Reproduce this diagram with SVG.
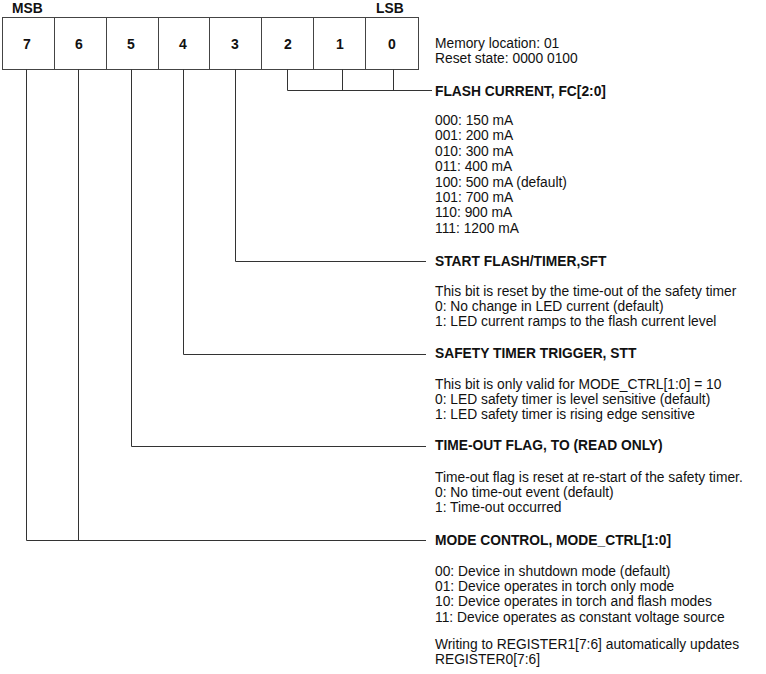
<svg xmlns="http://www.w3.org/2000/svg" width="766" height="674" viewBox="0 0 766 674">
<style>
text{font-family:"Liberation Sans",Arial,sans-serif;font-size:13.8px;fill:#111}
.b{font-weight:bold}
.d{font-weight:bold;font-size:14px;text-anchor:middle}
.cell{fill:#fff;stroke:#444;stroke-width:1}
.ln{fill:none;stroke:#333;stroke-width:1}
</style>
<rect width="766" height="674" fill="#fff"/>
<g id="register">
<text class="b" x="12" y="13">MSB</text>
<text class="b" x="376" y="13">LSB</text>
<rect class="cell" x="2.5" y="17.5" width="52" height="52"/>
<rect class="cell" x="54.5" y="17.5" width="52" height="52"/>
<rect class="cell" x="106.5" y="17.5" width="52" height="52"/>
<rect class="cell" x="158.5" y="17.5" width="51" height="52"/>
<rect class="cell" x="209.5" y="17.5" width="52" height="52"/>
<rect class="cell" x="261.5" y="17.5" width="52" height="52"/>
<rect class="cell" x="313.5" y="17.5" width="52" height="52"/>
<rect class="cell" x="365.5" y="17.5" width="53" height="52"/>
<text class="d" x="27" y="48.5">7</text>
<text class="d" x="79" y="48.5">6</text>
<text class="d" x="131" y="48.5">5</text>
<text class="d" x="183" y="48.5">4</text>
<text class="d" x="235" y="48.5">3</text>
<text class="d" x="288" y="48.5">2</text>
<text class="d" x="340" y="48.5">1</text>
<text class="d" x="392" y="48.5">0</text>
</g>
<g id="connectors">
<path class="ln" d="M287.5 69.5V90.5H432M342.5 69.5V90.5M393.5 69.5V90.5"/>
<path class="ln" d="M235.5 69.5V261.5H426"/>
<path class="ln" d="M183.5 69.5V354.5H426"/>
<path class="ln" d="M131.5 69.5V446.5H426"/>
<path class="ln" d="M26.5 69.5V540.5H426M78.5 69.5V540.5"/>
</g>
<g id="info">
<text x="435" y="48">Memory location: 01</text>
<text x="435" y="63">Reset state: 0000 0100</text>
</g>
<g id="fc">
<text class="b" x="435" y="96">FLASH CURRENT, FC[2:0]</text>
<text x="435" y="125">000: 150 mA</text>
<text x="435" y="140.4">001: 200 mA</text>
<text x="435" y="155.8">010: 300 mA</text>
<text x="435" y="171.2">011: 400 mA</text>
<text x="435" y="186.6">100: 500 mA (default)</text>
<text x="435" y="202">101: 700 mA</text>
<text x="435" y="217.4">110: 900 mA</text>
<text x="435" y="232.8">111: 1200 mA</text>
</g>
<g id="sft">
<text class="b" x="435" y="266">START FLASH/TIMER,SFT</text>
<text x="435" y="296">This bit is reset by the time-out of the safety timer</text>
<text x="435" y="311">0: No change in LED current (default)</text>
<text x="435" y="326">1: LED current ramps to the flash current level</text>
</g>
<g id="stt">
<text class="b" x="435" y="358">SAFETY TIMER TRIGGER, STT</text>
<text x="435" y="388.5">This bit is only valid for MODE_CTRL[1:0] = 10</text>
<text x="435" y="403.5">0: LED safety timer is level sensitive (default)</text>
<text x="435" y="418.5">1: LED safety timer is rising edge sensitive</text>
</g>
<g id="to">
<text class="b" x="435" y="450">TIME-OUT FLAG, TO (READ ONLY)</text>
<text x="435" y="481.5">Time-out flag is reset at re-start of the safety timer.</text>
<text x="435" y="496.5">0: No time-out event (default)</text>
<text x="435" y="511.5">1: Time-out occurred</text>
</g>
<g id="mode">
<text class="b" x="435" y="545">MODE CONTROL, MODE_CTRL[1:0]</text>
<text x="435" y="576">00: Device in shutdown mode (default)</text>
<text x="435" y="591.2">01: Device operates in torch only mode</text>
<text x="435" y="606.4">10: Device operates in torch and flash modes</text>
<text x="435" y="621.6">11: Device operates as constant voltage source</text>
<text x="435" y="648.5">Writing to REGISTER1[7:6] automatically updates</text>
<text x="435" y="663.5">REGISTER0[7:6]</text>
</g>
</svg>
